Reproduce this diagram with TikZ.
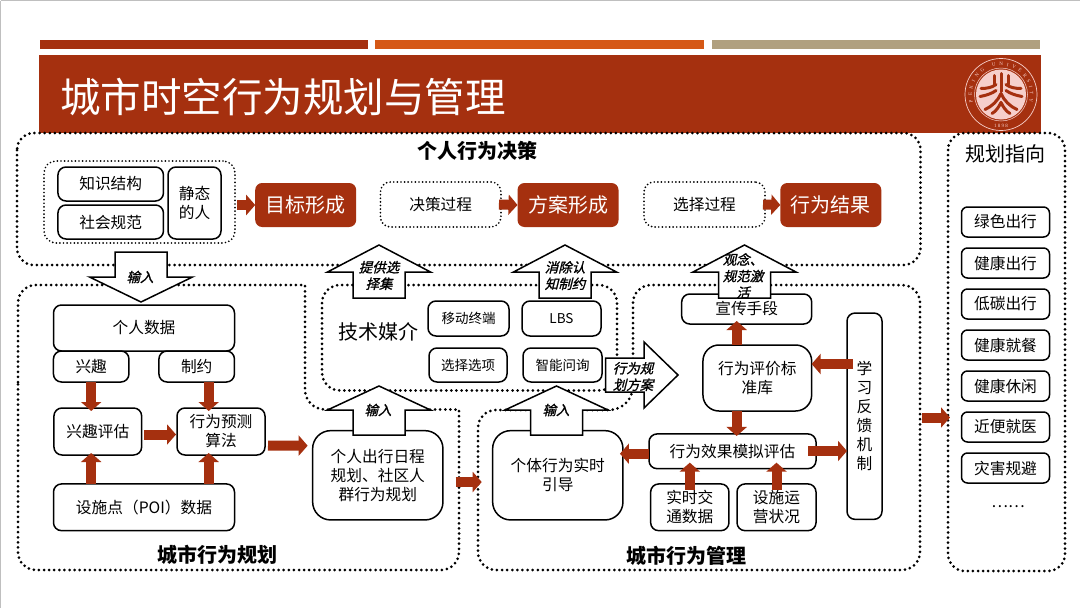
\documentclass[tikz,border=0pt]{standalone}
\usepackage{fontspec}
\setmainfont{Noto Sans CJK SC}
\newfontfamily\arrowfont[FakeSlant=0.25,FakeBold=1.2]{Noto Sans CJK SC}
\newfontfamily\sealfont{Liberation Serif}
\usetikzlibrary{arrows.meta,decorations.text}
\definecolor{pkured}{HTML}{A5300F}
\definecolor{pkuorange}{HTML}{D55816}
\definecolor{pkutan}{HTML}{B0A07F}
\definecolor{sealpink}{HTML}{F6CFCB}
\tikzset{
  txt/.style={font=\fontsize{#1}{#1}\selectfont,align=center,inner sep=0pt},
  roundbox/.style={draw=black,line width=1.5pt,rounded corners=#1,fill=white,inner sep=0pt,outer sep=0pt,align=center,font=\fontsize{15.7}{19}\selectfont},
  roundbox/.default=8pt,
  stagebox/.style={fill=pkured,text=white,rounded corners=7pt,inner sep=0pt,outer sep=0pt,minimum width=101pt,minimum height=44pt,font=\fontsize{20}{24}\selectfont},
  dotbox/.style={draw=black,line width=1.9pt,line cap=round,dash pattern=on 0pt off 3.6pt,rounded corners=10pt,inner sep=0pt,outer sep=0pt,font=\fontsize{15.7}{19}\selectfont},
  outerdots/.style={draw=black,line width=3pt,line cap=round,dash pattern=on 0pt off 5.1pt},
  redarrow/.style={draw=pkured,line width=10pt,-{Triangle[length=9pt,width=20pt]}},
  bigarrow/.style={draw=black,line width=1.5pt,fill=white,line join=miter},
  arrowtxt/.style={font=\arrowfont\fontsize{13.5}{16.5}\selectfont,align=center,inner sep=0pt},
  sidebox/.style={roundbox=6pt,minimum width=88pt,minimum height=30pt}
}
% x of the axis, y of the tip, y of the shoulders, y of the base
\newcommand{\blockarrow}[4]{\draw[bigarrow] (#1,#2) -- (#1+51.5,#3) -- (#1+26,#3) -- (#1+26,#4) -- (#1-26,#4) -- (#1-26,#3) -- (#1-51.5,#3) -- cycle;}
\begin{document}
\begin{tikzpicture}[x=1pt,y=-1pt]
\useasboundingbox (0,0) rectangle (1080,608);
\fill[white] (0,0) rectangle (1080,608);
\draw[black!25,line width=1pt] (0.5,0.5) -- (1079.5,0.5);
\draw[black!25,line width=1pt] (0.5,0.5) -- (0.5,608);

% title bars
\fill[pkured] (39.5,40) rectangle (368,49);
\fill[pkuorange] (375,40) rectangle (703.5,49);
\fill[pkutan] (712,40) rectangle (1040,49);
\fill[pkured] (38.5,54.5) rectangle (1041,133);
\node[txt=40.5,text=white,anchor=west] (title) at (60,97) {城市时空行为规划与管理};

% seal
\fill[sealpink] (1001,94.5) circle (25);
\draw[sealpink,line width=0.7pt] (1001,94.5) circle (36);
\draw[sealpink,line width=0.5pt] (1001,94.5) circle (26.5);
\path[decorate,decoration={text along path,text align={fit to path},text color=sealpink,
  text={|\sealfont\fontsize{5}{6}\selectfont|PEKING UNIVERSITY}}]
  (1001,94.5) ++(165:29) arc[start angle=165,end angle=375,radius=29];
\node[txt=5,text=sealpink,font=\sealfont\fontsize{5}{6}\selectfont] (year) at (1001,125.5) {1 8 9 8};
\begin{scope}[shift={(1001,94.5)},pkured,line width=3pt,line cap=round]
\draw (0,-21) -- (0,-3);
\draw (-7,-19) -- (-7,-10);
\draw (7,-19) -- (7,-10);
\draw (-5,-10) .. controls (-9,-7) and (-14,-6) .. (-20,-6);
\draw (5,-10) .. controls (9,-7) and (14,-6) .. (20,-6);
\draw (-5,-4) .. controls (-9,-1) and (-15,1) .. (-21,2);
\draw (5,-4) .. controls (9,-1) and (15,1) .. (21,2);
\draw (0,-1) .. controls (-3,6) and (-9,12) .. (-16,15);
\draw (0,-1) .. controls (3,6) and (9,12) .. (16,15);
\draw (0,8) .. controls (-2,12) and (-5,17) .. (-9,19);
\draw (0,8) .. controls (2,12) and (5,17) .. (9,19);
\end{scope}

% dotted frames
\draw[outerdots,rounded corners=17pt] (17,133) rectangle (920.5,265);
\draw[outerdots,rounded corners=17pt] (948,133) rectangle (1065,571);
\draw[outerdots,rounded corners=18pt] (322,285) rectangle (617,390.5);
\draw[outerdots,rounded corners=18pt] (18,400) -- (18,285) [sharp corners] -- (305,285) [rounded corners=20pt] -- (305,409.5) [sharp corners] -- (459,409.5) [rounded corners=18pt] -- (459,570) -- (18,570) -- cycle;
\draw[outerdots,rounded corners=18pt] (478,500) -- (478,410) [rounded corners=24pt] -- (633,410) [rounded corners=18pt] -- (633,285) -- (920,285) -- (920,570) -- (478,570) -- cycle;

\node[txt=20,font=\bfseries\fontsize{20}{24}\selectfont] (juece) at (477,151) {个人行为决策};
\node[txt=20,font=\bfseries\fontsize{20}{24}\selectfont] (guihua) at (217,555) {城市行为规划};
\node[txt=20,font=\bfseries\fontsize{20}{24}\selectfont] (guanli) at (686,556) {城市行为管理};
\node[txt=20] (zhixiang) at (1005,154) {规划指向};
\node[txt=20] (meijie) at (378,332) {技术媒介};

% personal decision row
\node[dotbox,rounded corners=12pt,minimum width=191pt,minimum height=82pt] (jingtai) at (139.5,202) {};
\node[roundbox,minimum width=105.5pt,minimum height=34pt] (zhishi) at (110.7,184) {知识结构};
\node[roundbox,minimum width=105.5pt,minimum height=34pt] (shehui) at (110.7,222) {社会规范};
\node[roundbox,minimum width=53pt,minimum height=72pt] (ren) at (194.5,203) {静态\\的人};
\node[stagebox] (mubiao) at (305.7,205) {目标形成};
\node[dotbox,minimum width=120.5pt,minimum height=45pt] (jcguocheng) at (440.7,204.5) {决策过程};
\node[stagebox] (fangan) at (568,205) {方案形成};
\node[dotbox,minimum width=121pt,minimum height=45pt] (xzguocheng) at (704.5,204.5) {选择过程};
\node[stagebox] (jieguo) at (830.8,205) {行为结果};

% planning side
\node[sidebox] (s1) at (1005.5,222) {绿色出行};
\node[sidebox] (s2) at (1005.5,263) {健康出行};
\node[sidebox] (s3) at (1005.5,304) {低碳出行};
\node[sidebox] (s4) at (1005.5,345) {健康就餐};
\node[sidebox] (s5) at (1005.5,386) {健康休闲};
\node[sidebox] (s6) at (1005.5,427) {近便就医};
\node[sidebox] (s7) at (1005.5,468) {灾害规避};
\node[txt=15.7] (s8) at (1008,507) {……};

% media
\node[roundbox,font=\fontsize{13.5}{16}\selectfont,minimum width=81pt,minimum height=35pt] (yidong) at (468.5,318.5) {移动终端};
\node[roundbox,font=\fontsize{13.5}{16}\selectfont,minimum width=79pt,minimum height=35pt] (lbs) at (561.5,318.5) {LBS};
\node[roundbox,font=\fontsize{13.5}{16}\selectfont,minimum width=78pt,minimum height=34pt] (xuanze) at (468,365) {选择选项};
\node[roundbox,font=\fontsize{13.5}{16}\selectfont,minimum width=79pt,minimum height=34pt] (zhineng) at (562.5,365) {智能问询};

% planning
\node[roundbox,minimum width=181pt,minimum height=46pt] (shuju) at (144,328) {个人数据};
\node[roundbox,minimum width=75.5pt,minimum height=31pt] (xingqu) at (91.2,366.5) {兴趣};
\node[roundbox,minimum width=75.5pt,minimum height=31pt] (zhiyue) at (196.7,366.5) {制约};
\node[roundbox,minimum width=87.7pt,minimum height=47pt] (pinggu) at (97.8,431.5) {兴趣评估};
\node[roundbox,minimum width=88pt,minimum height=47pt] (yuce) at (221,431.5) {行为预测\\算法};
\node[roundbox,minimum width=181pt,minimum height=46.7pt] (poi) at (144,507.3) {设施点（POI）数据};
\node[roundbox=18pt,minimum width=130.3pt,minimum height=89.3pt] (richeng) at (377.8,475.3) {个人出行日程\\规划、社区人\\群行为规划};

% management
\node[roundbox,minimum width=130pt,minimum height=30pt] (xuanchuan) at (746.7,309) {宣传手段};
\node[roundbox=16pt,minimum width=108.7pt,minimum height=66pt] (biaozhun) at (757.3,378) {行为评价标\\准库};
\node[roundbox,minimum width=167pt,minimum height=34.7pt] (moni) at (732.5,451.3) {行为效果模拟评估};
\node[roundbox,minimum width=78.3pt,minimum height=46.7pt] (jiaotong) at (689.8,507.3) {实时交\\通数据};
\node[roundbox,minimum width=79pt,minimum height=46.7pt] (yunying) at (776.5,507.3) {设施运\\营状况};
\node[roundbox,minimum width=35pt,minimum height=206.3pt] (fankui) at (864.5,416.2) {学\\习\\反\\馈\\机\\制};
\node[roundbox=18pt,minimum width=130.3pt,minimum height=89.3pt] (yindao) at (557.8,475.3) {个体行为实时\\引导};

% block arrows
\blockarrow{141}{302}{277}{252}
\blockarrow{379}{245}{272}{298}
\blockarrow{565}{245}{272}{298}
\blockarrow{744.5}{245}{272}{298}
\blockarrow{379}{386}{410}{435}
\blockarrow{556.5}{386}{410}{435}
\draw[bigarrow] (678,375) -- (644,342) -- (644,358) -- (605.7,358) -- (605.7,392) -- (644,392) -- (644,408) -- cycle;
\node[arrowtxt] (a1t) at (140,277) {输入};
\node[arrowtxt] (a2t) at (379,275.5) {提供选\\择集};
\node[arrowtxt] (a3t) at (565,275.5) {消除认\\知制约};
\node[arrowtxt] (a4t) at (743,276) {观念、\\规范激\\活};
\node[arrowtxt] (a5t) at (378,410) {输入};
\node[arrowtxt] (a6t) at (556,410) {输入};
\node[arrowtxt] (a7t) at (633,376.5) {行为规\\划方案};

% red arrows
\draw[redarrow] (mubiao.west) ++(-18,0) -- (mubiao.west);
\draw[redarrow] (jcguocheng.east) ++(-2,0) -- (fangan.west);
\draw[redarrow] (xzguocheng.east) ++(-2,0) -- (jieguo.west);
\draw[redarrow,shorten >=-3pt] (xingqu.south) -- (xingqu.south |- pinggu.north);
\draw[redarrow,shorten >=-3pt] ([xshift=12pt]zhiyue.south) -- ([xshift=12pt]zhiyue.south |- yuce.north);
\draw[redarrow,shorten >=-2pt] (poi.north -| xingqu.south) -- (xingqu.south |- pinggu.south);
\draw[redarrow,shorten >=-2pt] (poi.north -| yuce.west) ++(31.7,0) -- ([xshift=-12.3pt]yuce.south);
\draw[redarrow] ([yshift=-3pt]pinggu.east) ++(2.5,0) -- ([yshift=-3pt,xshift=-1pt]yuce.west);
\draw[redarrow] ([yshift=-14pt]yuce.east) ++(3,0) -- ([xshift=-5pt]richeng.west |- 0,445.7);
\draw[redarrow] (455.7,482) -- (481.7,482);
\draw[redarrow] (922,417.5) -- (950,417.5);
\draw[redarrow,shorten >=-3pt] (biaozhun.north -| 736.7,0) -- (xuanchuan.south -| 736.7,0);
\draw[redarrow] (fankui.west |- 0,364) ++(6,0) -- (biaozhun.east |- 0,364);
\draw[redarrow,shorten >=-2pt] (biaozhun.south -| 736.7,0) -- (moni.north -| 736.7,0);
\draw[redarrow,shorten >=-3pt] (moni.west |- 0,453.7) -- (yindao.east |- 0,453.7);
\draw[redarrow] (808,451) -- (fankui.west |- 0,451);
\draw[redarrow,shorten <=-6pt,shorten >=-6pt] (jiaotong.north) -- (jiaotong.north |- moni.south);
\draw[redarrow,shorten <=-6pt,shorten >=-6pt] (yunying.north) -- (yunying.north |- moni.south);
\end{tikzpicture}
\end{document}
